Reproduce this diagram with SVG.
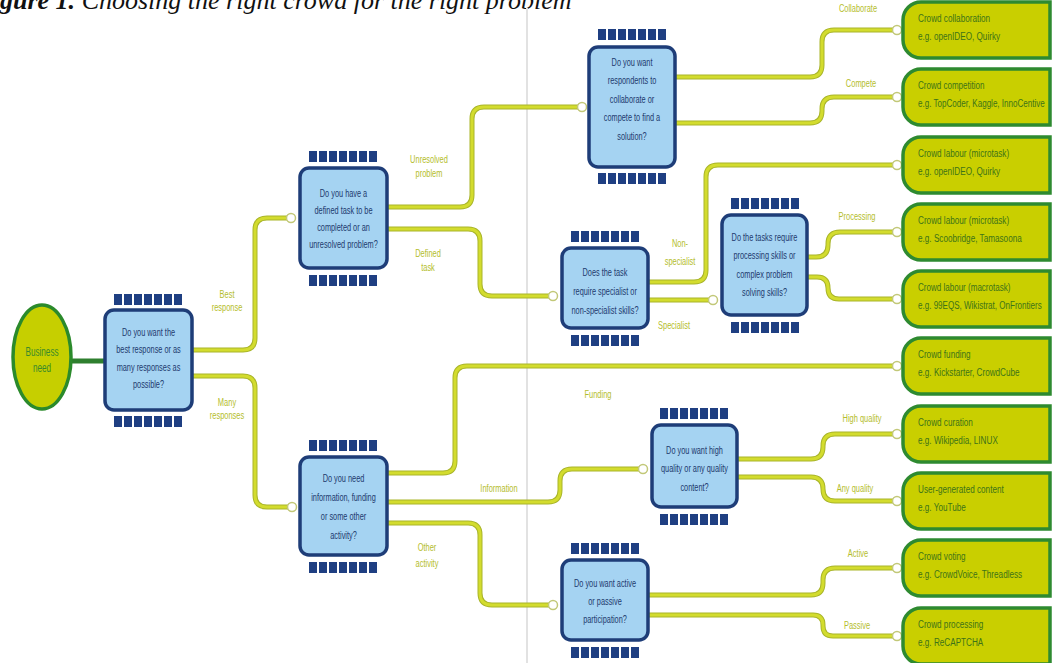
<svg xmlns="http://www.w3.org/2000/svg" xmlns:xlink="http://www.w3.org/1999/xlink" width="1054" height="663" viewBox="0 0 1054 663">
<style>
.q{fill:#a5d3f2;stroke:#1e3d78;stroke-width:3.5}
.qt{font-family:"Liberation Sans",Arial,sans-serif;font-size:11.5px;fill:#1d3a6e;text-anchor:middle}
.o{fill:#c9cf00;stroke:#2e8a30;stroke-width:3.5}
.ot{font-family:"Liberation Sans",Arial,sans-serif;font-size:11.5px;fill:#3d7318}
.lb{font-family:"Liberation Sans",Arial,sans-serif;font-size:11px;fill:#b4bd2c;text-anchor:middle}
.ca{fill:none;stroke:#a9b52a;stroke-width:5}
.cb{fill:none;stroke:#d3dc2e;stroke-width:3}
.dot{fill:#fff;stroke:#c2c878;stroke-width:1.5}
.pin{fill:#1f3f82}
</style>
<defs>
<g id="pins">
<rect class="pin" x="0" y="0" width="8" height="11"/>
<rect class="pin" x="10" y="0" width="8" height="11"/>
<rect class="pin" x="20" y="0" width="8" height="11"/>
<rect class="pin" x="30" y="0" width="8" height="11"/>
<rect class="pin" x="40" y="0" width="8" height="11"/>
<rect class="pin" x="50" y="0" width="8" height="11"/>
<rect class="pin" x="60" y="0" width="8" height="11"/>
</g>
</defs>
<rect x="0" y="0" width="1054" height="663" fill="#ffffff"/>
<text x="0" y="9" font-family="'Liberation Serif',serif" font-size="26" font-style="italic" fill="#111"><tspan font-weight="bold">gure 1.</tspan> Choosing the right crowd for the right problem</text>
<line x1="527" y1="8" x2="527" y2="663" stroke="#e2e2e2" stroke-width="2"/>

<g id="connectors">
<path d="M70 361 H106" stroke="#2e7f2e" stroke-width="5" fill="none"/>
<g>
<path class="ca" d="M192 350 H243 Q255 350 255 338 V230 Q255 218 267 218 H287"/>
<path class="ca" d="M192 376 H243 Q255 376 255 388 V495 Q255 507 267 507 H288"/>
<path class="ca" d="M387 207 H460 Q472 207 472 195 V119 Q472 107 484 107 H578"/>
<path class="ca" d="M387 229 H468 Q480 229 480 241 V284 Q480 296 492 296 H549"/>
<path class="ca" d="M675 77 H810 Q822 77 822 65 V42 Q822 30 834 30 H893"/>
<path class="ca" d="M675 123 H810 Q822 123 822 111 V109 Q822 97 834 97 H893"/>
<path class="ca" d="M648 282 H694 Q706 282 706 270 V177 Q706 165 718 165 H893"/>
<path class="ca" d="M648 300 H709"/>
<path class="ca" d="M807 257 H816 Q828 257 828 245 V244 Q828 232 840 232 H893"/>
<path class="ca" d="M807 277 H817 Q828 277 828 288 Q828 299 839 299 H893"/>
<path class="ca" d="M387 473 H443 Q455 473 455 461 V378 Q455 366 467 366 H893"/>
<path class="ca" d="M387 502 H548 Q560 502 560 490 V481 Q560 469 572 469 H639"/>
<path class="ca" d="M387 523 H468 Q480 523 480 535 V593 Q480 605 492 605 H549"/>
<path class="ca" d="M737 459 H811 Q823 459 823 447 V446 Q823 434 835 434 H893"/>
<path class="ca" d="M737 477 H811 Q823 477 823 489 Q823 501 835 501 H893"/>
<path class="ca" d="M648 595 H811 Q823 595 823 583 V580 Q823 568 835 568 H893"/>
<path class="ca" d="M648 615 H813 Q823 615 823 625 V626 Q823 636 833 636 H893"/>
</g>
<g>
<path class="cb" d="M192 350 H243 Q255 350 255 338 V230 Q255 218 267 218 H287"/>
<path class="cb" d="M192 376 H243 Q255 376 255 388 V495 Q255 507 267 507 H288"/>
<path class="cb" d="M387 207 H460 Q472 207 472 195 V119 Q472 107 484 107 H578"/>
<path class="cb" d="M387 229 H468 Q480 229 480 241 V284 Q480 296 492 296 H549"/>
<path class="cb" d="M675 77 H810 Q822 77 822 65 V42 Q822 30 834 30 H893"/>
<path class="cb" d="M675 123 H810 Q822 123 822 111 V109 Q822 97 834 97 H893"/>
<path class="cb" d="M648 282 H694 Q706 282 706 270 V177 Q706 165 718 165 H893"/>
<path class="cb" d="M648 300 H709"/>
<path class="cb" d="M807 257 H816 Q828 257 828 245 V244 Q828 232 840 232 H893"/>
<path class="cb" d="M807 277 H817 Q828 277 828 288 Q828 299 839 299 H893"/>
<path class="cb" d="M387 473 H443 Q455 473 455 461 V378 Q455 366 467 366 H893"/>
<path class="cb" d="M387 502 H548 Q560 502 560 490 V481 Q560 469 572 469 H639"/>
<path class="cb" d="M387 523 H468 Q480 523 480 535 V593 Q480 605 492 605 H549"/>
<path class="cb" d="M737 459 H811 Q823 459 823 447 V446 Q823 434 835 434 H893"/>
<path class="cb" d="M737 477 H811 Q823 477 823 489 Q823 501 835 501 H893"/>
<path class="cb" d="M648 595 H811 Q823 595 823 583 V580 Q823 568 835 568 H893"/>
<path class="cb" d="M648 615 H813 Q823 615 823 625 V626 Q823 636 833 636 H893"/>
</g>
<g>
<circle class="dot" cx="291" cy="218" r="4.5"/>
<circle class="dot" cx="292" cy="507" r="4.5"/>
<circle class="dot" cx="582" cy="107" r="4.5"/>
<circle class="dot" cx="553" cy="296" r="4.5"/>
<circle class="dot" cx="897" cy="30" r="4.5"/>
<circle class="dot" cx="897" cy="97" r="4.5"/>
<circle class="dot" cx="897" cy="165" r="4.5"/>
<circle class="dot" cx="713" cy="300" r="4.5"/>
<circle class="dot" cx="897" cy="232" r="4.5"/>
<circle class="dot" cx="897" cy="299" r="4.5"/>
<circle class="dot" cx="897" cy="366" r="4.5"/>
<circle class="dot" cx="643" cy="469" r="4.5"/>
<circle class="dot" cx="553" cy="605" r="4.5"/>
<circle class="dot" cx="897" cy="434" r="4.5"/>
<circle class="dot" cx="897" cy="501" r="4.5"/>
<circle class="dot" cx="897" cy="568" r="4.5"/>
<circle class="dot" cx="897" cy="636" r="4.5"/>
</g>
<g>
<text class="lb" transform="translate(227,298) scale(0.68,1)"><tspan x="0">Best</tspan><tspan x="0" dy="13">response</tspan></text>
<text class="lb" transform="translate(227,406) scale(0.68,1)"><tspan x="0">Many</tspan><tspan x="0" dy="13">responses</tspan></text>
<text class="lb" transform="translate(429,163) scale(0.68,1)"><tspan x="0">Unresolved</tspan><tspan x="0" dy="14">problem</tspan></text>
<text class="lb" transform="translate(428,257) scale(0.68,1)"><tspan x="0">Defined</tspan><tspan x="0" dy="14">task</tspan></text>
<text class="lb" transform="translate(858,12) scale(0.68,1)">Collaborate</text>
<text class="lb" transform="translate(861,87) scale(0.68,1)">Compete</text>
<text class="lb" transform="translate(680,247) scale(0.68,1)"><tspan x="0">Non-</tspan><tspan x="0" dy="18">specialist</tspan></text>
<text class="lb" transform="translate(674,329) scale(0.68,1)">Specialist</text>
<text class="lb" transform="translate(857,220) scale(0.68,1)">Processing</text>
<text class="lb" transform="translate(598,398) scale(0.68,1)">Funding</text>
<text class="lb" transform="translate(499,492) scale(0.68,1)">Information</text>
<text class="lb" transform="translate(427,551) scale(0.68,1)"><tspan x="0">Other</tspan><tspan x="0" dy="16">activity</tspan></text>
<text class="lb" transform="translate(862,422) scale(0.68,1)">High quality</text>
<text class="lb" transform="translate(855,492) scale(0.68,1)">Any quality</text>
<text class="lb" transform="translate(858,557) scale(0.68,1)">Active</text>
<text class="lb" transform="translate(857,629) scale(0.68,1)">Passive</text>
</g>
</g>

<g id="business-need">
<ellipse cx="42" cy="357" rx="29" ry="52" fill="#c6cf00" stroke="#2b8a2b" stroke-width="3.5"/>
<text transform="translate(42,356) scale(0.68,1)" font-family="'Liberation Sans',Arial,sans-serif" font-size="12" fill="#3a8a2a" text-anchor="middle"><tspan x="0">Business</tspan><tspan x="0" dy="16">need</tspan></text>
</g>

<g id="q1">
<use xlink:href="#pins" x="114" y="294"/>
<use xlink:href="#pins" x="114" y="416"/>
<rect class="q" x="105" y="310" width="87" height="100" rx="9"/>
<text class="qt" transform="translate(148.5,336) scale(0.64,1)"><tspan x="0">Do you want the</tspan><tspan x="0" dy="17.5">best response or as</tspan><tspan x="0" dy="17.5">many responses as</tspan><tspan x="0" dy="17.5">possible?</tspan></text>
</g>

<g id="q2">
<use xlink:href="#pins" x="309" y="151"/>
<use xlink:href="#pins" x="309" y="275"/>
<rect class="q" x="300" y="168" width="87" height="100" rx="9"/>
<text class="qt" transform="translate(343.5,197) scale(0.64,1)"><tspan x="0">Do you have a</tspan><tspan x="0" dy="17">defined task to be</tspan><tspan x="0" dy="17">completed or an</tspan><tspan x="0" dy="17">unresolved problem?</tspan></text>
</g>

<g id="q3">
<use xlink:href="#pins" x="598" y="29"/>
<use xlink:href="#pins" x="598" y="173"/>
<rect class="q" x="589" y="47" width="86" height="120" rx="9"/>
<text class="qt" transform="translate(632,66) scale(0.64,1)"><tspan x="0">Do you want</tspan><tspan x="0" dy="18.5">respondents to</tspan><tspan x="0" dy="18.5">collaborate or</tspan><tspan x="0" dy="18.5">compete to find a</tspan><tspan x="0" dy="18.5">solution?</tspan></text>
</g>

<g id="q4">
<use xlink:href="#pins" x="571" y="231"/>
<use xlink:href="#pins" x="571" y="335"/>
<rect class="q" x="562" y="248" width="86" height="80" rx="9"/>
<text class="qt" transform="translate(605,276) scale(0.64,1)"><tspan x="0">Does the task</tspan><tspan x="0" dy="19">require specialist or</tspan><tspan x="0" dy="19">non-specialist skills?</tspan></text>
</g>

<g id="q5">
<use xlink:href="#pins" x="731" y="198"/>
<use xlink:href="#pins" x="731" y="322"/>
<rect class="q" x="722" y="215" width="85" height="100" rx="9"/>
<text class="qt" transform="translate(764.5,241) scale(0.64,1)"><tspan x="0">Do the tasks require</tspan><tspan x="0" dy="18.3">processing skills or</tspan><tspan x="0" dy="18.3">complex problem</tspan><tspan x="0" dy="18.3">solving skills?</tspan></text>
</g>

<g id="q6">
<use xlink:href="#pins" x="309" y="440"/>
<use xlink:href="#pins" x="309" y="562"/>
<rect class="q" x="300" y="457" width="87" height="98" rx="9"/>
<text class="qt" transform="translate(343.5,482) scale(0.64,1)"><tspan x="0">Do you need</tspan><tspan x="0" dy="19">information, funding</tspan><tspan x="0" dy="19">or some other</tspan><tspan x="0" dy="19">activity?</tspan></text>
</g>

<g id="q7">
<use xlink:href="#pins" x="660" y="408"/>
<use xlink:href="#pins" x="660" y="514"/>
<rect class="q" x="652" y="425" width="85" height="82" rx="9"/>
<text class="qt" transform="translate(694.5,454) scale(0.64,1)"><tspan x="0">Do you want high</tspan><tspan x="0" dy="18.5">quality or any quality</tspan><tspan x="0" dy="18.5">content?</tspan></text>
</g>

<g id="q8">
<use xlink:href="#pins" x="571" y="543"/>
<use xlink:href="#pins" x="571" y="647"/>
<rect class="q" x="562" y="560" width="86" height="80" rx="9"/>
<text class="qt" transform="translate(605,587) scale(0.64,1)"><tspan x="0">Do you want active</tspan><tspan x="0" dy="18">or passive</tspan><tspan x="0" dy="18">participation?</tspan></text>
</g>

<g id="o1"><path class="o" d="M1050 2 H921 A18 18 0 0 0 903 20 V40 A18 18 0 0 0 921 58 H1050 Z"/><text class="ot" transform="translate(918,22) scale(0.71,1)"><tspan x="0">Crowd collaboration</tspan><tspan x="0" dy="18">e.g. openIDEO, Quirky</tspan></text></g>
<g id="o2"><path class="o" d="M1050 69 H921 A18 18 0 0 0 903 87 V107 A18 18 0 0 0 921 125 H1050 Z"/><text class="ot" transform="translate(918,89) scale(0.7,1)"><tspan x="0">Crowd competition</tspan><tspan x="0" dy="18">e.g. TopCoder, Kaggle, InnoCentive</tspan></text></g>
<g id="o3"><path class="o" d="M1050 137 H921 A18 18 0 0 0 903 155 V175 A18 18 0 0 0 921 193 H1050 Z"/><text class="ot" transform="translate(918,157) scale(0.71,1)"><tspan x="0">Crowd labour (microtask)</tspan><tspan x="0" dy="18">e.g. openIDEO, Quirky</tspan></text></g>
<g id="o4"><path class="o" d="M1050 204 H921 A18 18 0 0 0 903 222 V242 A18 18 0 0 0 921 260 H1050 Z"/><text class="ot" transform="translate(918,224) scale(0.71,1)"><tspan x="0">Crowd labour (microtask)</tspan><tspan x="0" dy="18">e.g. Scoobridge, Tamasoona</tspan></text></g>
<g id="o5"><path class="o" d="M1050 271 H921 A18 18 0 0 0 903 289 V309 A18 18 0 0 0 921 327 H1050 Z"/><text class="ot" transform="translate(918,291) scale(0.7,1)"><tspan x="0">Crowd labour (macrotask)</tspan><tspan x="0" dy="18">e.g. 99EQS, Wikistrat, OnFrontiers</tspan></text></g>
<g id="o6"><path class="o" d="M1050 338 H921 A18 18 0 0 0 903 356 V376 A18 18 0 0 0 921 394 H1050 Z"/><text class="ot" transform="translate(918,358) scale(0.71,1)"><tspan x="0">Crowd funding</tspan><tspan x="0" dy="18">e.g. Kickstarter, CrowdCube</tspan></text></g>
<g id="o7"><path class="o" d="M1050 406 H921 A18 18 0 0 0 903 424 V444 A18 18 0 0 0 921 462 H1050 Z"/><text class="ot" transform="translate(918,426) scale(0.71,1)"><tspan x="0">Crowd curation</tspan><tspan x="0" dy="18">e.g. Wikipedia, LINUX</tspan></text></g>
<g id="o8"><path class="o" d="M1050 473 H921 A18 18 0 0 0 903 491 V511 A18 18 0 0 0 921 529 H1050 Z"/><text class="ot" transform="translate(918,493) scale(0.71,1)"><tspan x="0">User-generated content</tspan><tspan x="0" dy="18">e.g. YouTube</tspan></text></g>
<g id="o9"><path class="o" d="M1050 540 H921 A18 18 0 0 0 903 558 V578 A18 18 0 0 0 921 596 H1050 Z"/><text class="ot" transform="translate(918,560) scale(0.71,1)"><tspan x="0">Crowd voting</tspan><tspan x="0" dy="18">e.g. CrowdVoice, Threadless</tspan></text></g>
<g id="o10"><path class="o" d="M1050 608 H921 A18 18 0 0 0 903 626 V646 A18 18 0 0 0 921 664 H1050 Z"/><text class="ot" transform="translate(918,628) scale(0.71,1)"><tspan x="0">Crowd processing</tspan><tspan x="0" dy="18">e.g. ReCAPTCHA</tspan></text></g>
</svg>
